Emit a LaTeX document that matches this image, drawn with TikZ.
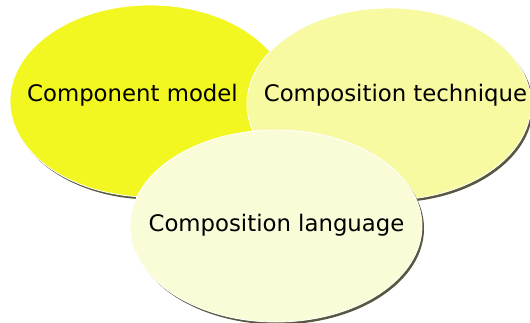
\documentclass[tikz,border=0pt]{standalone}
\usepackage{fontspec}
\setmainfont{DejaVu Sans}
\usetikzlibrary{shapes.geometric,shadows}
\definecolor{modelfill}{RGB}{242,247,34}
\definecolor{techfill}{RGB}{247,250,160}
\definecolor{langfill}{RGB}{250,252,216}
\definecolor{shadowcol}{RGB}{70,70,45}
\tikzset{
  blob/.style={ellipse, inner sep=0pt, minimum height=192pt,
    draw=white, line width=0.8pt,
    drop shadow={shadow xshift=2pt, shadow yshift=-2.5pt, fill=shadowcol, opacity=0.9}},
  caption/.style={font=\fontsize{22.8}{26}\selectfont, text=black, inner sep=0pt}
}
\begin{document}
\begin{tikzpicture}[x=1pt,y=-1pt]
  \useasboundingbox (0,0) rectangle (530,322);
  \node[blob, fill=modelfill, minimum width=280pt] (model) at (150,101) {};
  \node[blob, fill=techfill, minimum width=284pt] (tech) at (389,104) {};
  \node[blob, fill=langfill, minimum width=292pt] (lang) at (276,226) {};
  \node[caption] (modeltext) at (132.5,95) {Component model};
  \node[caption] (techtext) at (395.5,95) {Composition technique};
  \node[caption] (langtext) at (276.5,225) {Composition language};
\end{tikzpicture}
\end{document}
